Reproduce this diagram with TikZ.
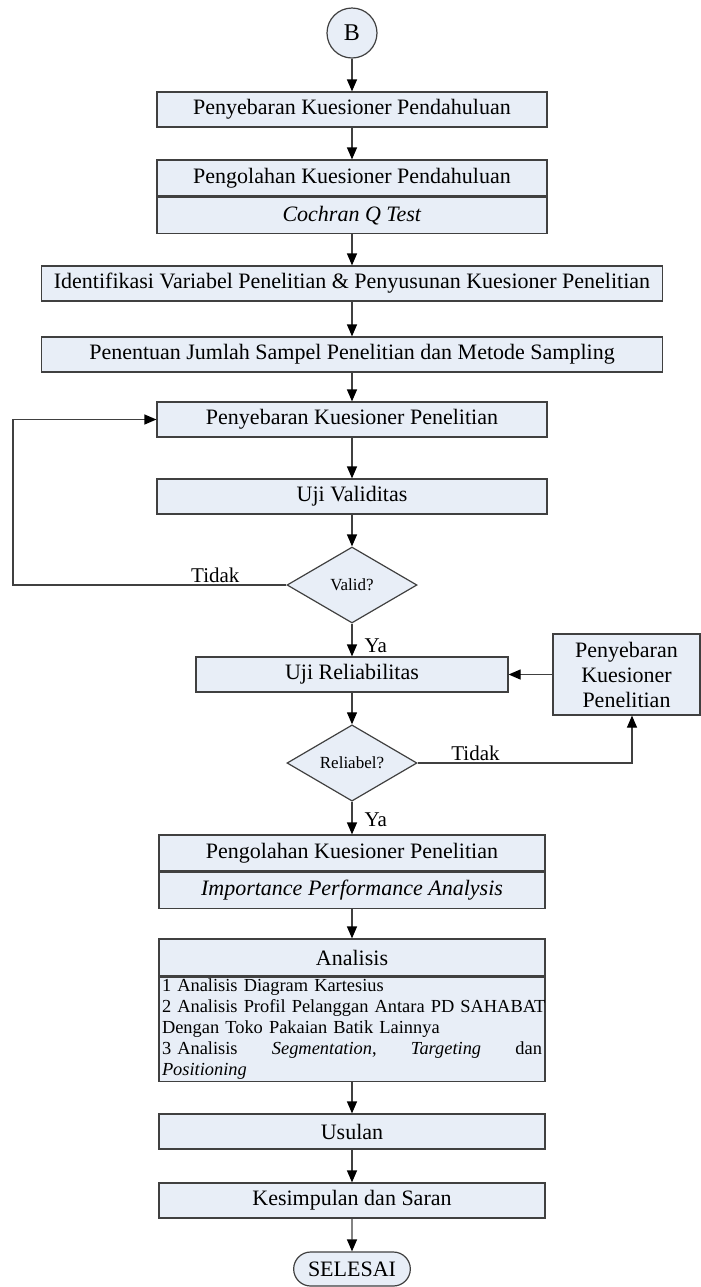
\documentclass[tikz,border=0pt]{standalone}
\usepackage{fontspec}
\setmainfont{Liberation Serif}
\usetikzlibrary{shapes.geometric,shapes.misc,arrows.meta,positioning}
\definecolor{isi}{HTML}{E8EEF7}
\definecolor{garis}{HTML}{404040}

\begin{document}
\begin{tikzpicture}[x=0.5pt,y=-0.5pt,
  proses/.style={draw=garis, fill=isi, line width=0.6pt, inner sep=0pt,
    minimum width=195pt, minimum height=17.5pt, font=\fontsize{11}{13}\selectfont},
  proses2/.style={proses, minimum width=193pt, minimum height=18pt},
  keputusan/.style={diamond, draw=garis, fill=isi, line width=0.6pt, inner sep=0pt,
    minimum width=65pt, minimum height=38pt, font=\fontsize{8.5}{10}\selectfont},
  terminal/.style={rounded rectangle, draw=garis, fill=isi, line width=0.6pt,
    minimum width=65pt, minimum height=17pt, font=\fontsize{11}{13}\selectfont},
  bulat/.style={circle, draw=garis, fill=isi, line width=0.6pt, minimum size=25pt,
    inner sep=0pt, font=\fontsize{12}{14}\selectfont},
  panah/.style={draw=garis, line width=0.6pt, -{Triangle[length=6pt, width=5pt, black]}},
  ket/.style={inner sep=1pt, font=\fontsize{10.5}{12}\selectfont}]

  \useasboundingbox (0,0) rectangle (701,1287);

  \node[bulat] (b) at (352,33) {B};
  \node[proses] (p1) at (352,109.5) {Penyebaran Kuesioner Pendahuluan};
  \node[proses, minimum height=18pt] (p2) at (352,178) {Pengolahan Kuesioner Pendahuluan};
  \node[proses, minimum height=18pt, below=0pt of p2] (p2b) {\textit{Cochran Q Test}};
  \node[proses, minimum width=310.5pt] (p3) at (352,283.5)
    {Identifikasi Variabel Penelitian \& Penyusunan Kuesioner Penelitian};
  \node[proses, minimum width=310.5pt] (p4) at (352,354.5)
    {Penentuan Jumlah Sampel Penelitian dan Metode Sampling};
  \node[proses] (p5) at (352,419.5) {Penyebaran Kuesioner Penelitian};
  \node[proses] (p6) at (352,496.5) {Uji Validitas};
  \node[keputusan] (d1) at (352,585) {Valid?};
  \node[proses, minimum width=156pt] (p7) at (352,674.5) {Uji Reliabilitas};
  \node[proses, minimum width=73.5pt, minimum height=40.5pt, align=center,
    font=\fontsize{11}{12.5}\selectfont] (p7b) at (626.5,674.5)
    {Penyebaran\\Kuesioner\\Penelitian};
  \node[keputusan] (d2) at (352,763) {Reliabel?};
  \node[proses2] (p8) at (352,853) {Pengolahan Kuesioner Penelitian};
  \node[proses2, below=0pt of p8] (p8b) {\textit{Importance Performance Analysis}};
  \node[proses2, minimum height=18.5pt] (p9) at (352,957.5) {Analisis};
  \node[proses2, minimum height=52pt, below=0pt of p9, text width=190pt, inner xsep=1.5pt,
    align=left, font=\fontsize{9.2}{10.5}\selectfont] (p9b)
    {1 Analisis Diagram Kartesius\\
     \mbox{2 Analisis Profil Pelanggan Antara PD SAHABAT}\\
     Dengan Toko Pakaian Batik Lainnya\\
     \makebox[190pt][s]{3 Analisis\hfill\textit{Segmentation},\hfill\textit{Targeting}\hfill dan}\\
     \textit{Positioning}};
  \node[proses2, minimum height=17.5pt] (p10) at (352,1131.5) {Usulan};
  \node[proses2, minimum height=17.5pt] (p11) at (352,1200.5) {Kesimpulan dan Saran};
  \node[terminal] (t) at (352,1269) {SELESAI};

  \coordinate (kiri) at (13,585);
  \coordinate (kanan) at (632,763);

  \draw[panah] (b) -- (p1);
  \draw[panah] (p1) -- (p2);
  \draw[panah] (p2b) -- (p3);
  \draw[panah] (p3) -- (p4);
  \draw[panah] (p4) -- (p5);
  \draw[panah] (p5) -- (p6);
  \draw[panah] (p6) -- (d1);
  \draw[panah] (d1.west) -- node[ket, above, pos=0.26] {Tidak} (kiri) |- (p5.west);
  \draw[panah] (d1) -- node[ket, right=5pt, pos=0.66] {Ya} (p7);
  \draw[panah] (p7b) -- (p7);
  \draw[panah] (p7) -- (d2);
  \draw[panah] (d2.east) -- node[ket, above, pos=0.27] {Tidak} (kanan) -- (kanan |- p7b.south);
  \draw[panah] (d2) -- node[ket, right=5pt, pos=0.56] {Ya} (p8);
  \draw[panah] (p8b) -- (p9);
  \draw[panah] (p9b) -- (p10);
  \draw[panah] (p10) -- (p11);
  \draw[panah] (p11) -- (t);
\end{tikzpicture}
\end{document}
